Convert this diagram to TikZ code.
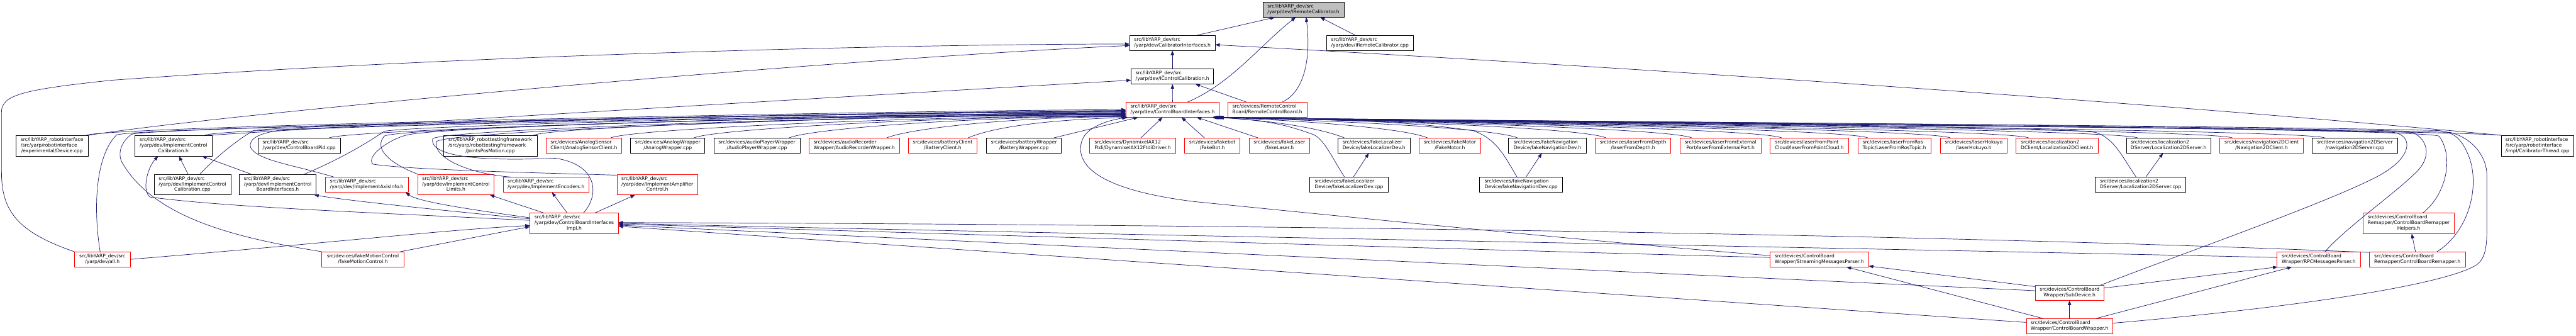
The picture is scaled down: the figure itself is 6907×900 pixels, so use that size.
\documentclass[tikz,border=0pt]{standalone}
\usepackage{fontspec}
\setmainfont{DejaVu Sans}
\usetikzlibrary{arrows.meta}
\definecolor{edgec}{HTML}{191970}
\definecolor{rootfill}{HTML}{BFBFBF}
\definecolor{nodered}{HTML}{FF0000}
\newcommand{\lbl}[2]{\begin{tabular}{@{}l@{}}#1\\\multicolumn{1}{@{}c@{}}{#2}\end{tabular}}
\newcommand{\toleft}[3]{\draw[ed] (#1) .. controls +(60,-25) and +(-#3,0) .. (#2);}
\newcommand{\toright}[3]{\draw[ed] (#1) .. controls +(-60,-25) and +(#3,10) .. (#2);}
\begin{document}
\begin{tikzpicture}[x=1pt,y=-1pt,
  nb/.style={draw=black, fill=white, line width=1.1pt, inner sep=0pt, minimum height=40pt, font=\fontsize{12.8pt}{15pt}\selectfont},
  nr/.style={nb, draw=nodered},
  tall/.style={minimum height=55pt},
  ed/.style={draw=edgec, line width=1.2pt, -{Triangle[length=12pt,width=9pt]}}]
\fill[white] (0,0) rectangle (6907,900);
\useasboundingbox (0,0) rectangle (6907,900);

% ---- nodes ----
\node[nb, fill=rootfill, minimum width=218pt] (root) at (3495,26) {\lbl{src/libYARP\_dev/src}{/yarp/dev/IRemoteCalibrator.h}};
\node[nb, minimum width=229pt] (calib) at (3143.5,115) {\lbl{src/libYARP\_dev/src}{/yarp/dev/CalibratorInterfaces.h}};
\node[nb, minimum width=232pt] (rcpp) at (3673,115) {\lbl{src/libYARP\_dev/src}{/yarp/dev/IRemoteCalibrator.cpp}};
\node[nb, minimum width=221pt] (icc) at (3143.5,205) {\lbl{src/libYARP\_dev/src}{/yarp/dev/IControlCalibration.h}};
\node[nr, minimum width=250pt] (cbi) at (3144,294) {\lbl{src/libYARP\_dev/src}{/yarp/dev/ControlBoardInterfaces.h}};
\node[nr, minimum width=212pt] (rcb) at (3398,294) {\lbl{src/devices/RemoteControl}{Board/RemoteControlBoard.h}};

\node[nb, tall, minimum width=195pt] (dev) at (139.5,390.5) {\lbl{src/libYARP\_robotinterface\\/src/yarp/robotinterface}{/experimental/Device.cpp}};
\node[nb, tall, minimum width=206pt] (iccH) at (465,390.5) {\lbl{src/libYARP\_dev/src\\/yarp/dev/ImplementControl}{Calibration.h}};
\node[nb, minimum width=220pt] (pid) at (802,390) {\lbl{src/libYARP\_dev/src}{/yarp/dev/ControlBoardPid.cpp}};
\node[nb, tall, minimum width=251pt] (jpm) at (1314.5,390.5) {\lbl{src/libYARP\_robottestingframework\\/src/yarp/robottestingframework}{/JointsPosMotion.cpp}};
\node[nr, minimum width=203pt] (asc) at (1565.5,390) {\lbl{src/devices/AnalogSensor}{Client/AnalogSensorClient.h}};
\node[nb, minimum width=199pt] (aw) at (1790.5,390) {\lbl{src/devices/AnalogWrapper}{/AnalogWrapper.cpp}};
\node[nb, minimum width=231pt] (apw) at (2029.5,390) {\lbl{src/devices/audioPlayerWrapper}{/AudioPlayerWrapper.cpp}};
\node[nr, minimum width=243pt] (arw) at (2290.5,390) {\lbl{src/devices/audioRecorder}{Wrapper/AudioRecorderWrapper.h}};
\node[nr, minimum width=185pt] (bc) at (2527.5,390) {\lbl{src/devices/batteryClient}{/BatteryClient.h}};
\node[nb, minimum width=201pt] (bw) at (2745.5,390) {\lbl{src/devices/batteryWrapper}{/BatteryWrapper.cpp}};
\node[nr, minimum width=232pt] (dyn) at (3037,390) {\lbl{src/devices/DynamixelAX12}{Ftdi/DynamixelAX12FtdiDriver.h}};
\node[nr, minimum width=149pt] (fb) at (3250.5,390) {\lbl{src/devices/fakebot}{/FakeBot.h}};
\node[nr, minimum width=163pt] (fl) at (3430.5,390) {\lbl{src/devices/fakeLaser}{/fakeLaser.h}};
\node[nb, minimum width=194pt] (fld) at (3684,390) {\lbl{src/devices/fakeLocalizer}{Device/fakeLocalizerDev.h}};
\node[nr, minimum width=165pt] (fm) at (3887.5,390) {\lbl{src/devices/fakeMotor}{/FakeMotor.h}};
\node[nb, minimum width=208pt] (fnd) at (4149,390) {\lbl{src/devices/fakeNavigation}{Device/fakeNavigationDev.h}};
\node[nr, minimum width=203pt] (lfd) at (4378.5,390) {\lbl{src/devices/laserFromDepth}{/laserFromDepth.h}};
\node[nr, minimum width=218pt] (lfe) at (4613,390) {\lbl{src/devices/laserFromExternal}{Port/laserFromExternalPort.h}};
\node[nr, minimum width=211pt] (lfp) at (4851.5,390) {\lbl{src/devices/laserFromPoint}{Cloud/laserFromPointCloud.h}};
\node[nr, minimum width=197pt] (lfr) at (5079.5,390) {\lbl{src/devices/laserFromRos}{Topic/LaserFromRosTopic.h}};
\node[nr, minimum width=180pt] (lh) at (5292,390) {\lbl{src/devices/laserHokuyo}{/laserHokuyo.h}};
\node[nr, minimum width=221pt] (l2c) at (5515.5,390) {\lbl{src/devices/localization2}{DClient/Localization2DClient.h}};
\node[nb, minimum width=227pt] (l2s) at (5814.5,390) {\lbl{src/devices/localization2}{DServer/Localization2DServer.h}};
\node[nr, minimum width=224pt] (n2c) at (6064,390) {\lbl{src/devices/navigation2DClient}{/Navigation2DClient.h}};
\node[nb, minimum width=228pt] (n2s) at (6314,390) {\lbl{src/devices/navigation2DServer}{/navigation2DServer.cpp}};
\node[nb, tall, minimum width=195pt] (ct) at (6803.5,390.5) {\lbl{src/libYARP\_robotinterface\\/src/yarp/robotinterface}{/impl/CalibratorThread.cpp}};

\node[nb, tall, minimum width=206pt] (iccC) at (516,494.5) {\lbl{src/libYARP\_dev/src\\/yarp/dev/ImplementControl}{Calibration.cpp}};
\node[nb, tall, minimum width=205pt] (icbi) at (744.5,494.5) {\lbl{src/libYARP\_dev/src\\/yarp/dev/ImplementControl}{BoardInterfaces.h}};
\node[nr, minimum width=223pt] (iai) at (983.5,495) {\lbl{src/libYARP\_dev/src}{/yarp/dev/ImplementAxisInfo.h}};
\node[nr, tall, minimum width=205pt] (icl) at (1222.5,494.5) {\lbl{src/libYARP\_dev/src\\/yarp/dev/ImplementControl}{Limits.h}};
\node[nr, minimum width=230pt] (ie) at (1464,495) {\lbl{src/libYARP\_dev/src}{/yarp/dev/ImplementEncoders.h}};
\node[nr, tall, minimum width=217pt] (iac) at (1762.5,494.5) {\lbl{src/libYARP\_dev/src\\/yarp/dev/ImplementAmplifier}{Control.h}};
\node[nb, minimum width=210pt] (fldc) at (3617,495) {\lbl{src/devices/fakeLocalizer}{Device/fakeLocalizerDev.cpp}};
\node[nb, minimum width=223pt] (fndc) at (4078.5,495) {\lbl{src/devices/fakeNavigation}{Device/fakeNavigationDev.cpp}};
\node[nb, minimum width=243pt] (l2sc) at (5739.5,495) {\lbl{src/devices/localization2}{DServer/Localization2DServer.cpp}};

\node[nr, tall, minimum width=237pt] (cbii) at (1539.5,598.5) {\lbl{src/libYARP\_dev/src\\/yarp/dev/ControlBoardInterfaces}{Impl.h}};
\node[nr, tall, minimum width=245pt] (crh) at (6458.5,598.5) {\lbl{src/devices/ControlBoard\\Remapper/ControlBoardRemapper}{Helpers.h}};

\node[nr, minimum width=149pt] (all) at (274.5,695) {\lbl{src/libYARP\_dev/src}{/yarp/dev/all.h}};
\node[nr, minimum width=220pt] (fmc) at (973,695) {\lbl{src/devices/fakeMotionControl}{/fakeMotionControl.h}};
\node[nr, minimum width=264pt] (smp) at (4878,695) {\lbl{src/devices/ControlBoard}{Wrapper/StreamingMessagesParser.h}};
\node[nr, minimum width=224pt] (rpc) at (6217,695) {\lbl{src/devices/ControlBoard}{Wrapper/RPCMessagesParser.h}};
\node[nr, minimum width=257pt] (cbr) at (6481.5,695) {\lbl{src/devices/ControlBoard}{Remapper/ControlBoardRemapper.h}};
\node[nr, minimum width=184pt] (sd) at (5549,785) {\lbl{src/devices/ControlBoard}{Wrapper/SubDevice.h}};
\node[nr, minimum width=232pt] (cbw) at (5549,874) {\lbl{src/devices/ControlBoard}{Wrapper/ControlBoardWrapper.h}};

% ---- edges to root ----
\draw[ed] ([xshift=66pt]calib.north) -- ([xshift=-77pt]root.south);
\draw[ed] ([xshift=-39pt]rcpp.north) -- ([xshift=45pt]root.south);
\draw[ed] ([xshift=40pt]cbi.north) .. controls (3300,225) and (3380,120) .. ([xshift=-21pt]root.south);
\draw[ed] ([xshift=40pt]rcb.north) .. controls (3500,245) and (3515,150) .. ([xshift=7pt]root.south);

% ---- edges to CalibratorInterfaces ----
\draw[ed] (icc) -- (calib);
\draw[ed] (all.north west) .. controls (40,620) and (4,560) .. (4,460) -- (4,300) .. controls (4,255) and (60,240) .. (300,215) .. controls (1200,150) and (2400,118) .. ([yshift=-3pt]calib.west);
\draw[ed] (dev.north east) .. controls (600,305) and (2200,160) .. ([yshift=-7pt]calib.west);
\draw[ed] (ct.north west) .. controls (5500,250) and (4000,160) .. ([yshift=-5pt]calib.east);

% ---- edges to IControlCalibration ----
\draw[ed] (cbi) -- (icc);
\draw[ed] ([xshift=-56pt]rcb.north) -- ([xshift=62pt]icc.south);
\draw[ed] ([xshift=-8pt]iccH.north east) .. controls (1200,322) and (2500,245) .. ([yshift=-10pt]icc.west);

% ---- left bundle to ControlBoardInterfaces ----
\toleft{[xshift=-6pt]dev.north east}{cbi.west}{500}
\toleft{[xshift=-20pt]iccH.north east}{[yshift=-4pt]cbi.west}{500}
\toleft{[xshift=-30pt]pid.north east}{[yshift=-8pt]cbi.west}{500}
\toleft{[xshift=-10pt]jpm.north east}{[yshift=-13pt]cbi.west}{500}
\toleft{[xshift=-30pt]asc.north east}{[yshift=-16pt]cbi.west}{500}
\toleft{[xshift=-30pt]aw.north east}{[yshift=-17pt]cbi.west}{450}
\toleft{[xshift=-30pt]apw.north east}{[yshift=-18pt]cbi.west}{400}
\toleft{[xshift=-35pt]arw.north east}{[yshift=-19pt]cbi.west}{300}
\draw[ed] ([xshift=-25pt]bc.north east) .. controls +(60,-25) and +(-250,8) .. ([xshift=6pt]cbi.south west);
\draw[ed] ([xshift=-21pt]bw.north east) -- ([xshift=33pt]cbi.south west);

\draw[ed] ([xshift=20pt]iccC.north) .. controls (580,420) and (640,372) .. (680,350) .. controls (800,330) and (2500,300) .. ([yshift=-6pt]cbi.west);
\draw[ed] ([xshift=72pt]icbi.north) .. controls (880,440) and (960,400) .. (1030,352) .. controls (1100,335) and (2500,302) .. ([yshift=-9pt]cbi.west);
\draw[ed] ([xshift=-88pt]iai.north) .. controls (780,440) and (690,430) .. (672,395) .. controls (665,370) and (700,355) .. (760,348) .. controls (1200,330) and (2500,303) .. ([yshift=-10pt]cbi.west);
\draw[ed] (icl.north west) .. controls (1050,440) and (1000,400) .. (1030,365) .. controls (1060,340) and (2500,303) .. ([yshift=-11pt]cbi.west);
\draw[ed] ([xshift=-94pt]ie.north) .. controls (1250,465) and (1160,420) .. (1170,380) .. controls (1180,350) and (2500,304) .. ([yshift=-12pt]cbi.west);
\draw[ed] ([yshift=-3pt]iac.north west) .. controls (1400,462) and (1100,455) .. (1000,440) .. controls (980,420) and (1040,375) .. (1090,362) .. controls (1200,335) and (2500,305) .. ([yshift=-14pt]cbi.west);
\draw[ed] ([xshift=25pt]cbii.north) .. controls (1610,520) and (1600,440) .. (1489,424) .. controls (1350,430) and (1150,430) .. (1160,372) .. controls (1180,345) and (2500,305) .. ([yshift=-15pt]cbi.west);
\draw[ed] ([xshift=-6pt]all.north) .. controls (250,560) and (255,420) .. (312,362) .. controls (340,340) and (2500,298) .. ([yshift=-2pt]cbi.west);
\draw[ed] (fmc.north west) .. controls (650,640) and (420,590) .. (330,440) .. controls (310,410) and (330,375) .. (353,360) .. controls (400,340) and (2500,299) .. ([yshift=-5pt]cbi.west);
\draw[ed] ([yshift=10pt]smp.west) .. controls (4300,650) and (3600,580) .. (3200,540) .. controls (2960,510) and (2890,450) .. (2898,390) .. controls (2902,345) and (2960,325) .. ([xshift=2pt]cbi.south west);

% ---- bottom arrows ----
\draw[ed] ([xshift=22pt]dyn.north) -- ([xshift=-27pt]cbi.south);
\draw[ed] ([xshift=-21pt]fb.north) -- ([xshift=24pt]cbi.south);
\draw[ed] ([xshift=-57pt]fl.north) -- ([xshift=65pt]cbi.south);

% ---- right bundle to ControlBoardInterfaces ----
\toright{[xshift=18pt]fld.north west}{cbi.south east}{150}
\toright{[xshift=23pt]fm.north west}{[xshift=-1pt]cbi.south east}{250}
\toright{[xshift=24pt]fnd.north west}{[xshift=-2pt]cbi.south east}{350}
\toright{[xshift=30pt]lfd.north west}{[xshift=-3pt]cbi.south east}{500}
\toright{[xshift=33pt]lfe.north west}{[xshift=-4pt]cbi.south east}{500}
\toright{[xshift=32pt]lfp.north west}{[xshift=-5pt]cbi.south east}{500}
\toright{[xshift=28pt]lfr.north west}{[xshift=-6pt]cbi.south east}{500}
\toright{[xshift=28pt]lh.north west}{[xshift=-7pt]cbi.south east}{500}
\toright{[xshift=35pt]l2c.north west}{[xshift=-8pt]cbi.south east}{500}
\toright{[xshift=31pt]l2s.north west}{[xshift=-9pt]cbi.south east}{500}
\toright{[xshift=34pt]n2c.north west}{[xshift=-10pt]cbi.south east}{500}
\toright{[xshift=34pt]n2s.north west}{[xshift=-11pt]cbi.south east}{500}
\draw[ed] (ct.north west) .. controls (6500,345) and (3800,322) .. ([xshift=-12pt]cbi.south east);
\draw[ed] ([xshift=-12pt]fldc.north) .. controls (3570,420) and (3550,372) .. (3520,360) .. controls (3450,335) and (3400,322) .. ([xshift=-13pt]cbi.south east);
\draw[ed] ([xshift=-11pt]fndc.north) .. controls (4030,410) and (4010,372) .. (3950,350) .. controls (3800,330) and (3700,322) .. ([xshift=-14pt]cbi.south east);
\draw[ed] ([xshift=-12pt]l2sc.north) .. controls (5690,420) and (5670,372) .. (5620,355) .. controls (5500,335) and (3700,322) .. ([xshift=-15pt]cbi.south east);
\draw[ed] ([xshift=38pt]crh.north) .. controls (6560,520) and (6580,420) .. (6540,365) .. controls (6500,340) and (3700,324) .. ([xshift=-16pt]cbi.south east);
\draw[ed] ([xshift=53pt]cbr.north) .. controls (6620,620) and (6650,500) .. (6620,420) .. controls (6600,370) and (6580,355) .. (6540,350) .. controls (6000,335) and (3700,323) .. ([xshift=-17pt]cbi.south east);
\draw[ed] ([xshift=17pt]rpc.north) .. controls (6290,610) and (6420,520) .. (6480,460) .. controls (6520,420) and (6510,375) .. (6470,355) .. controls (6000,338) and (3700,324) .. ([xshift=-18pt]cbi.south east);
\draw[ed] ([xshift=-10pt]sd.north east) .. controls (5850,680) and (6250,540) .. (6380,470) .. controls (6470,420) and (6470,365) .. (6420,355) .. controls (6000,340) and (3700,325) .. ([xshift=-19pt]cbi.south east);
\draw[ed] ([yshift=8pt]cbw.east) .. controls (6200,820) and (6560,760) .. (6640,710) .. controls (6668,690) and (6668,650) .. (6668,600) -- (6668,470) .. controls (6668,420) and (6630,370) .. (6570,355) .. controls (6000,335) and (3700,322) .. ([xshift=-20pt]cbi.south east);

% ---- edges to ControlBoardInterfacesImpl ----
\draw[ed] ([yshift=-2pt]cbr.north west) .. controls (5000,620) and (3000,600) .. ([yshift=2pt]cbii.east);
\draw[ed] ([yshift=5pt]rpc.west) .. controls (5000,665) and (3000,630) .. (cbii.east);
\draw[ed] ([yshift=5pt]smp.west) .. controls (3800,665) and (2500,625) .. ([yshift=-2pt]cbii.east);
\draw[ed] ([yshift=6pt]sd.west) -- ([yshift=-5pt]cbii.east);
\draw[ed] ([yshift=10pt]cbw.west) -- ([yshift=-8pt]cbii.east);
\draw[ed] (all.east) .. controls (900,650) and (1200,615) .. ([yshift=-6pt]cbii.west);
\draw[ed] ([xshift=-10pt]fmc.north east) -- ([yshift=-9pt]cbii.west);

% ---- edges from ControlBoardInterfacesImpl ----
\draw[ed] ([yshift=8pt]cbii.west) .. controls (1000,570) and (600,555) .. (402,528) .. controls (380,510) and (395,450) .. ([xshift=-41pt]iccH.south);
\draw[ed] ([yshift=12pt]cbii.west) .. controls (1200,565) and (950,540) .. ([xshift=-5pt]icbi.south east);
\draw[ed] ([yshift=15pt]cbii.west) .. controls (1250,560) and (1120,540) .. ([xshift=-8pt]iai.south east);
\draw[ed] ([xshift=37pt]cbii.north west) -- ([xshift=91pt]icl.south);
\draw[ed] ([xshift=-19pt]cbii.north) -- ([xshift=16pt]ie.south);
\draw[ed] ([xshift=56pt]cbii.north) -- ([xshift=-60pt]iac.south);

% ---- short edges ----
\draw[ed] ([xshift=-12pt]iccC.north) -- ([xshift=15pt]iccH.south);
\draw[ed] ([xshift=-72pt]icbi.north) -- ([xshift=77pt]iccH.south);
\draw[ed] ([xshift=12pt]fldc.north) -- ([xshift=-14pt]fld.south);
\draw[ed] ([xshift=13pt]fndc.north) -- ([xshift=-15pt]fnd.south);
\draw[ed] ([xshift=14pt]l2sc.north) -- ([xshift=-15pt]l2s.south);
\draw[ed] ([xshift=-5pt]cbr.north) -- ([xshift=8pt]crh.south);
\draw[ed] (cbw) -- (sd);
\draw[ed] ([xshift=-71pt]cbw.north) -- ([xshift=73pt]smp.south);
\draw[ed] ([yshift=17pt]sd.west) -- ([yshift=-18pt]smp.east);
\draw[ed] ([yshift=13pt]sd.east) -- ([xshift=2pt]rpc.south west);
\draw[ed] ([xshift=71pt]cbw.north) -- ([xshift=-72pt]rpc.south);
\end{tikzpicture}
\end{document}
